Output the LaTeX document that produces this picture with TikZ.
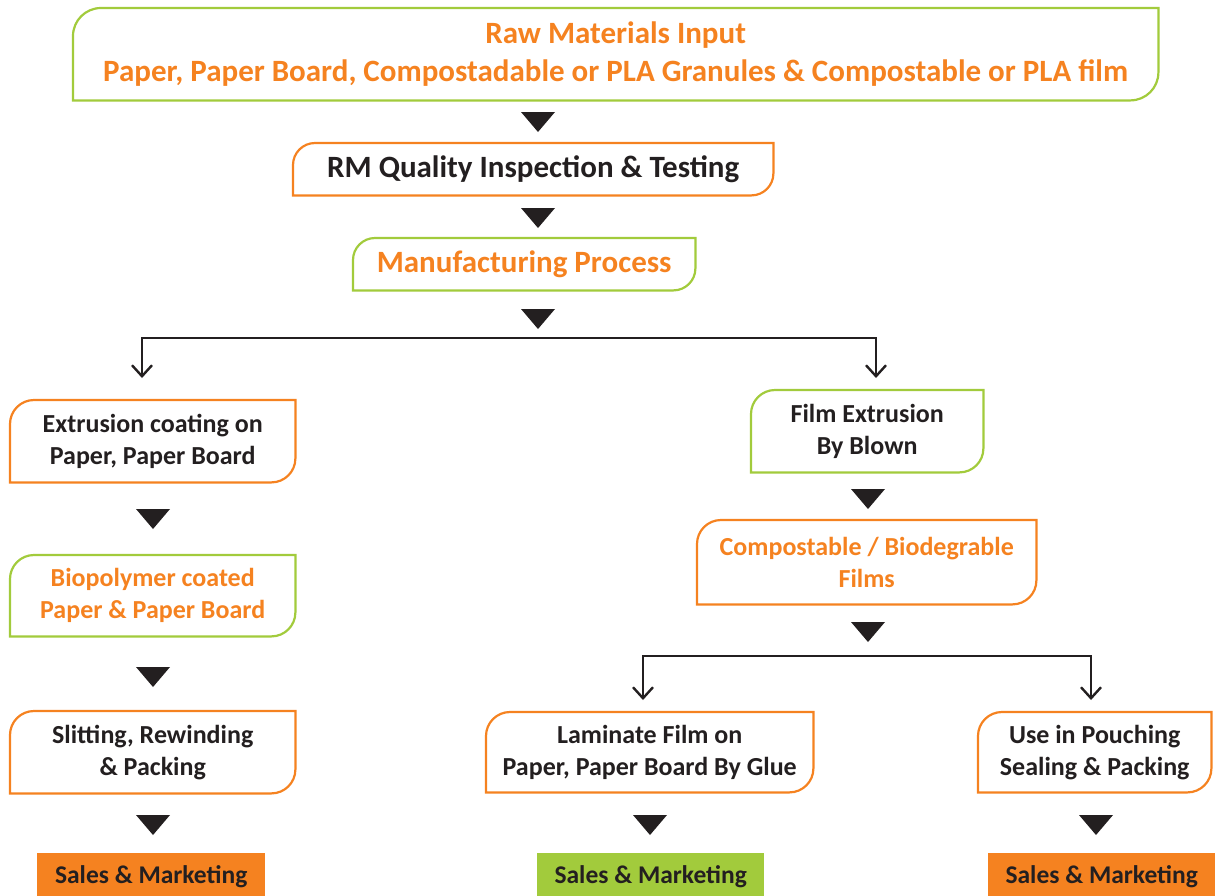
\documentclass[tikz,border=0pt]{standalone}
\usepackage{fontspec}
\setmainfont{Carlito}
\usetikzlibrary{arrows.meta,calc}
\definecolor{cor}{HTML}{F58220}
\definecolor{cgr}{HTML}{A2CB3C}
\definecolor{ctx}{HTML}{231F20}
\newcommand{\rbox}[3]{\draw[#2, line width=2.2pt] (#1.south west) -- ([yshift=-#3 pt]#1.north west) arc[start angle=180,end angle=90,radius=#3pt] -- (#1.north east) -- ([yshift=#3 pt]#1.south east) arc[start angle=0,end angle=-90,radius=#3pt] -- cycle;}
\newcommand{\tri}[2]{\fill[ctx] (#1-17,#2-10) -- (#1+17,#2-10) -- (#1,#2+10) -- cycle;}
\begin{document}
\begin{tikzpicture}[x=1pt,y=-1pt,
  bx/.style={inner sep=0pt, anchor=north west, align=center, font=\bfseries\fontsize{26}{32}\selectfont, text=ctx},
  big/.style={font=\bfseries\fontsize{31}{38}\selectfont},
  sales/.style={inner sep=0pt, anchor=north west, font=\bfseries\fontsize{25.5}{28}\selectfont, text=ctx, minimum width=228pt, minimum height=47pt},
  conn/.style={draw=ctx, line width=2.4pt, -{Straight Barb[length=11pt,width=20pt,line width=2.4pt]}}]
\useasboundingbox (0,0) rectangle (1215,895);
% top
\node[bx,big,text=cor,minimum width=1085pt,minimum height=92pt] (raw) at (73,8) {Raw Materials Input\\Paper, Paper Board, Compostadable or PLA Granules \& Compostable or PLA film};
\rbox{raw}{cgr}{28}
\node[bx,big,minimum width=480pt,minimum height=52pt] (rm) at (293,143) {RM Quality Inspection \& Testing};
\rbox{rm}{cor}{22}
\node[bx,big,text=cor,minimum width=342pt,minimum height=52pt] (mp) at (353,238) {Manufacturing Process};
\rbox{mp}{cgr}{22}
\tri{538}{122}
\tri{538}{218}
\tri{538}{319}
% left column
\node[bx,minimum width=285pt,minimum height=82pt] (ext) at (10,400) {Extrusion coating on\\Paper, Paper Board};
\rbox{ext}{cor}{24}
\node[bx,text=cor,minimum width=285pt,minimum height=81pt] (bio) at (10,555) {Biopolymer coated\\Paper \& Paper Board};
\rbox{bio}{cgr}{24}
\node[bx,minimum width=285pt,minimum height=82pt] (sli) at (10,711) {Slitting, Rewinding\\\& Packing};
\rbox{sli}{cor}{24}
\node[sales,fill=cor] (s1) at (37,853) {Sales \& Marketing};
\tri{153}{519}
\tri{153}{677}
\tri{153}{825}
% right column
\node[bx,minimum width=232pt,minimum height=82pt] (fil) at (751,390) {Film Extrusion\\By Blown};
\rbox{fil}{cgr}{24}
\node[bx,text=cor,minimum width=339pt,minimum height=84pt] (com) at (697,520) {Compostable / Biodegrable\\Films};
\rbox{com}{cor}{24}
\tri{868}{499}
\tri{868}{632}
\node[bx,minimum width=327pt,minimum height=80pt] (lam) at (486,712) {Laminate Film on\\Paper, Paper Board By Glue};
\rbox{lam}{cor}{24}
\node[bx,minimum width=233pt,minimum height=80pt] (pou) at (978,712) {Use in Pouching\\Sealing \& Packing};
\rbox{pou}{cor}{24}
\node[sales,fill=cgr,minimum width=227pt] (s2) at (537,853) {Sales \& Marketing};
\node[sales,fill=cor,minimum width=227pt] (s3) at (988,853) {Sales \& Marketing};
\tri{650}{825}
\tri{1096}{825}
% connectors
\coordinate (j1) at (538,338);
\coordinate (a1) at (142,378);
\coordinate (a2) at (876,378);
\draw[conn] (j1) -| (a1);
\draw[conn] (j1) -| (a2);
\coordinate (j2) at (867,656);
\coordinate (a3) at (643,700);
\coordinate (a4) at (1091,700);
\draw[conn] (j2) -| (a3);
\draw[conn] (j2) -| (a4);
\end{tikzpicture}
\end{document}
